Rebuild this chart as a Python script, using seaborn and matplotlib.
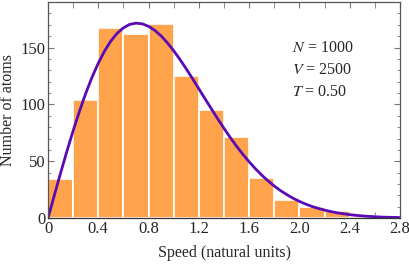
import numpy as np
import matplotlib
matplotlib.use("Agg")
import matplotlib.pyplot as plt
import seaborn as sns
from matplotlib.ticker import MultipleLocator

# histogram of atom speeds (bin edges every 0.2)
bin_edges = [0.0, 0.2, 0.4, 0.6, 0.8, 1.0, 1.2, 1.4, 1.6, 1.8, 2.0, 2.2, 2.4, 2.6, 2.8]
counts = [34, 104, 167, 162, 171, 125, 95, 71, 35, 16, 10, 6, 2, 1]

# theoretical distribution curve
curve_v = [0.00, 0.05, 0.10, 0.15, 0.20, 0.25, 0.30, 0.35, 0.40, 0.45, 0.50, 0.55,
           0.60, 0.65, 0.70, 0.75, 0.80, 0.85, 0.90, 0.95, 1.00, 1.05, 1.10, 1.15,
           1.20, 1.25, 1.30, 1.35, 1.40, 1.45, 1.50, 1.55, 1.60, 1.65, 1.70, 1.75,
           1.80, 1.85, 1.90, 1.95, 2.00, 2.05, 2.10, 2.15, 2.20, 2.25, 2.30, 2.35,
           2.40, 2.45, 2.50, 2.55, 2.60, 2.65, 2.70, 2.75, 2.80]
curve_n = [0.0, 19.9, 39.6, 58.7, 76.9, 93.9, 109.7, 123.9, 136.3, 147.0, 155.8, 162.6,
           167.4, 170.4, 171.5, 170.9, 168.7, 165.1, 160.2, 154.1, 147.2, 139.5, 131.2, 122.6,
           113.7, 104.8, 96.0, 87.3, 78.9, 70.8, 63.2, 56.1, 49.5, 43.4, 37.8, 32.7,
           28.2, 24.1, 20.6, 17.4, 14.7, 12.3, 10.2, 8.5, 7.0, 5.7, 4.6, 3.8,
           3.0, 2.4, 1.9, 1.5, 1.2, 0.9, 0.7, 0.6, 0.4]

labels = ["$N$ = 1000", "$V$ = 2500", "$T$ = 0.50"]

sns.set_style("ticks")
plt.rcParams["font.family"] = ["Liberation Serif", "DejaVu Serif"]
plt.rcParams["mathtext.fontset"] = "stix"

fig = plt.figure(figsize=(4.09, 2.64), dpi=100)
ax = fig.add_axes([0.1174, 0.174, 0.8606, 0.818])

centers = [(a + b) / 2 for a, b in zip(bin_edges[:-1], bin_edges[1:])]
sns.histplot(x=centers, weights=counts, bins=bin_edges, ax=ax,
             color="#FFA34D", alpha=1, edgecolor="white", linewidth=1.2)
sns.lineplot(x=curve_v, y=curve_n, ax=ax, color="#5A0AB4", linewidth=2)

ax.set_xlim(0, 2.8)
ax.set_ylim(0, 190)
ax.xaxis.set_major_locator(MultipleLocator(0.4))
ax.xaxis.set_minor_locator(MultipleLocator(0.2))
ax.yaxis.set_major_locator(MultipleLocator(50))
ax.yaxis.set_minor_locator(MultipleLocator(10))
ax.set_xticklabels([f"{v:.1f}" if v else "0" for v in ax.get_xticks()])
ax.tick_params(which="both", direction="in", top=True, right=True,
               color="#777777", labelsize=12, pad=2)
ax.tick_params(which="major", length=4)
ax.tick_params(which="minor", length=2.5)
ax.tick_params(axis="x", which="minor", length=4)
for s in ax.spines.values():
    s.set_color("#555555")
    s.set_linewidth(0.9)
ax.spines["bottom"].set_color("#333333")

ax.set_xlabel("Speed (natural units)", fontsize=11.5, labelpad=6)
ax.set_ylabel("Number of atoms", fontsize=11.5, labelpad=3)

for i, t in enumerate(labels):
    ax.text(0.692, 0.787 - i * 0.102, t, transform=ax.transAxes,
            fontsize=11.5, va="center", ha="left")

fig.savefig("out.png", dpi=100)
